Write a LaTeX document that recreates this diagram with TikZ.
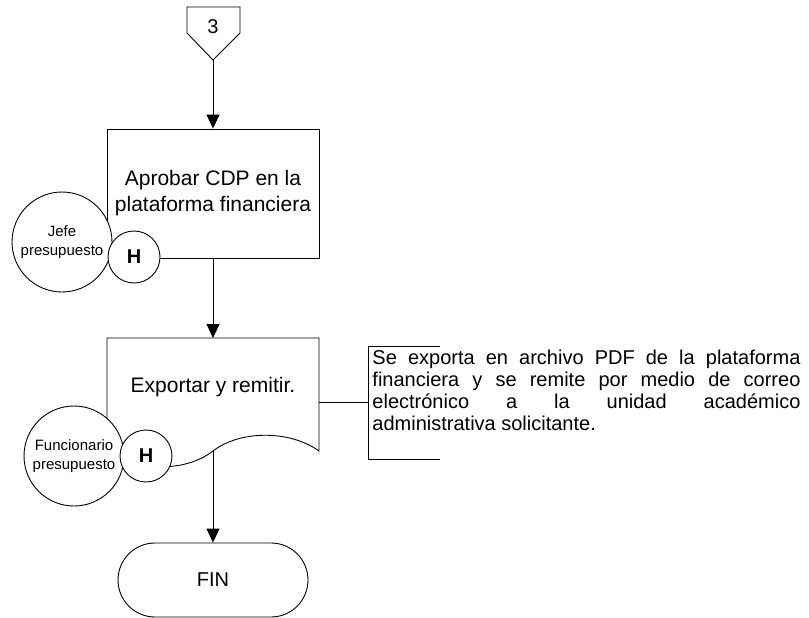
\documentclass[tikz,border=0pt]{standalone}
\usepackage{fontspec}
\setmainfont{Liberation Sans}
\usetikzlibrary{arrows.meta}

\tikzset{
  flecha/.style={-{Triangle[length=14pt,width=13pt]}},
  actividad/.style={draw, minimum width=212pt, minimum height=129pt, align=center,
    font=\fontsize{21}{26}\selectfont},
  responsable/.style={draw, circle, fill=white, minimum size=100pt, inner sep=0pt,
    align=center, font=\fontsize{15}{19}\selectfont},
  hito/.style={draw, circle, fill=white, minimum size=52pt, inner sep=0pt,
    font=\fontsize{20}{24}\selectfont\bfseries},
  terminal/.style={draw, rounded corners=37pt, minimum width=190pt, minimum height=74pt,
    font=\fontsize{20}{24}\selectfont}
}

\begin{document}
\begin{tikzpicture}[x=1pt, y=-1pt, line width=0.9pt]
		\useasboundingbox (0,0) rectangle (809,618);
		% conector fuera de pagina
		\draw (187,7) -- (240,7) -- (240,33) -- (213,60) -- (187,33) -- cycle;
		\node[font=\fontsize{20}{24}\selectfont] (con3) at (213,27) {3};
		\coordinate (con3s) at (213,60);
		% actividad 1
		\node[actividad] (aprobar) at (213,193.5) {Aprobar CDP en la\\plataforma financiera};
		\draw[flecha] (con3s) -- (aprobar.north);
		% actividad 2 (documento)
		\draw (107,451) -- (107,338) -- (319,338) -- (319,451)
			.. controls (290,430) and (240,430) .. (213,451)
			.. controls (186,472) and (140,472) .. (107,451);
		\node[font=\fontsize{21}{26}\selectfont] (exportar) at (213,387) {Exportar y remitir.};
		\coordinate (exportarn) at (213,338);
		\coordinate (exportars) at (213,451);
		\coordinate (exportare) at (319,402);
		\draw[flecha] (aprobar.south) -- (exportarn);
		% fin
		\node[terminal] (fin) at (213,580) {FIN};
		\draw[flecha] (exportars) -- (fin.north);
		% nota
		\coordinate (nota) at (368,402);
		\draw (exportare) -- (nota);
		\draw (440,346) -- (368,346) -- (368,459) -- (440,459);
		\node[anchor=north west, inner sep=0pt, text width=428pt, align=justify,
			font=\fontsize{20}{22}\selectfont] (notatxt) at (372,350)
			{Se exporta en archivo PDF de la plataforma\linebreak financiera y se remite por medio de correo\linebreak electr\'onico a la unidad acad\'emico\linebreak administrativa solicitante.};
		% responsables
		\node[responsable] (jefe) at (62,242) {Jefe\\presupuesto};
		\node[hito] (h1) at (134,257) {H};
		\node[responsable] (func) at (74,456) {Funcionario\\presupuesto};
		\node[hito] (h2) at (146,456) {H};
	\end{tikzpicture}
\end{document}
